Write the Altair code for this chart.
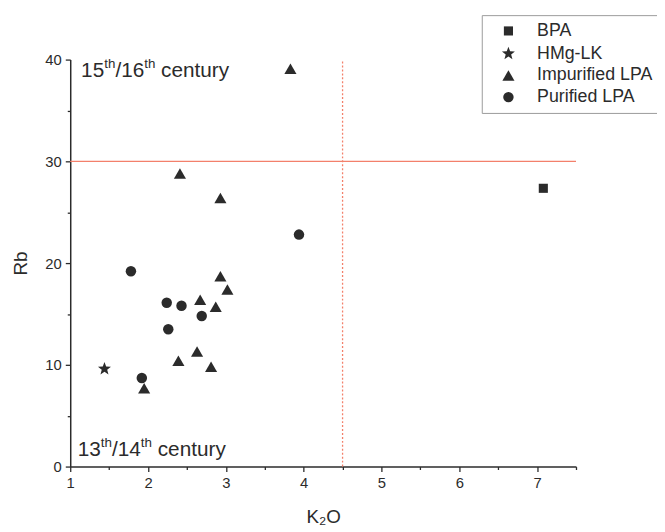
import math
import altair as alt
import pandas as pd

# ---------------- data ----------------
categories = ["BPA", "HMg-LK", "Impurified LPA", "Purified LPA"]

bpa_k2o = [7.08]
bpa_rb = [27.35]

hmg_k2o = [1.44]
hmg_rb = [9.6]

imp_k2o = [3.83, 2.41, 2.93, 2.93, 3.02, 2.67, 2.87, 2.63, 2.39, 2.81, 1.95]
imp_rb = [39.1, 28.8, 26.4, 18.7, 17.4, 16.4, 15.7, 11.3, 10.4, 9.8, 7.7]

pur_k2o = [3.94, 1.78, 2.24, 2.43, 2.69, 2.26, 1.92]
pur_rb = [22.8, 19.2, 16.1, 15.8, 14.8, 13.5, 8.7]

x_major = [1, 2, 3, 4, 5, 6, 7]
x_minor = [1.5, 2.5, 3.5, 4.5, 5.5, 6.5, 7.5]
y_major = [0, 10, 20, 30, 40]
y_minor = [5, 15, 25, 35]

rb_limit = 30
k2o_limit = 4.5

# ---------------- tables ----------------
rows = []
for name, xs, ys in [
    ("BPA", bpa_k2o, bpa_rb),
    ("HMg-LK", hmg_k2o, hmg_rb),
    ("Impurified LPA", imp_k2o, imp_rb),
    ("Purified LPA", pur_k2o, pur_rb),
]:
    for a, b in zip(xs, ys):
        rows.append({"K2O": a, "Rb": b, "group": name})
df = pd.DataFrame(rows)

# star symbol path in the unit square
pts = []
for i in range(10):
    ang = -math.pi / 2 + i * math.pi / 5
    r = 1.0 if i % 2 == 0 else 0.42
    pts.append(f"{r*math.cos(ang):.3f},{r*math.sin(ang):.3f}")
star = "M" + "L".join(pts) + "Z"

shapes = ["square", star, "triangle-up", "circle"]
sizes = [85, 190, 150, 112]

FONT = "Liberation Sans"
INK = "#2b2b2b"
RED = "#f3806b"

xscale = alt.Scale(domain=[1, 7.5], nice=False, zero=False)
yscale = alt.Scale(domain=[0, 40], nice=False, zero=False)

legend_spec = alt.Legend(title=None, orient="none", legendX=416.6, legendY=-45)

points = alt.Chart(df).mark_point(filled=True, opacity=1, color=INK).encode(
    x=alt.X("K2O:Q", scale=xscale,
            axis=alt.Axis(values=x_major, title="K₂O", tickSize=5,
                          labelPadding=4, labelFlush=False, titleX=256, titleY=51,
                          titleBaseline="middle", titleFontSize=19,
                          titleFontWeight="normal", orient="bottom")),
    y=alt.Y("Rb:Q", scale=yscale,
            axis=alt.Axis(values=y_major, title="Rb", tickSize=5,
                          labelPadding=4, labelFlush=False, titleX=-50, titleY=206,
                          titleBaseline="middle", titleFontSize=19,
                          titleFontWeight="normal", orient="left")),
    shape=alt.Shape("group:N", scale=alt.Scale(domain=categories, range=shapes),
                    legend=legend_spec),
    size=alt.Size("group:N", scale=alt.Scale(type="ordinal", domain=categories, range=sizes),
                  legend=legend_spec),
)

minor = alt.Chart(df).mark_point(opacity=0).encode(
    x=alt.X("K2O:Q", scale=xscale,
            axis=alt.Axis(values=x_minor, labels=False, domain=False, tickSize=3,
                          orient="bottom", title=None)),
    y=alt.Y("Rb:Q", scale=yscale,
            axis=alt.Axis(values=y_minor, labels=False, domain=False, tickSize=3,
                          orient="left", title=None)),
)

hline = alt.Chart(pd.DataFrame({"K2O": [1], "K2O_end": [7.5], "Rb": [rb_limit]})).mark_rule(
    color=RED, strokeWidth=1.3).encode(
    x=alt.X("K2O:Q", scale=xscale, axis=None), x2="K2O_end:Q",
    y=alt.Y("Rb:Q", scale=yscale, axis=None))

vline = alt.Chart(pd.DataFrame({"K2O": [k2o_limit], "Rb": [0], "Rb_end": [40]})).mark_rule(
    color=RED, strokeWidth=1.3, strokeDash=[2, 2]).encode(
    x=alt.X("K2O:Q", scale=xscale, axis=None),
    y=alt.Y("Rb:Q", scale=yscale, axis=None), y2="Rb_end:Q")

top_anchor = pd.DataFrame({"K2O": [1], "Rb": [40]})
bot_anchor = pd.DataFrame({"K2O": [1], "Rb": [0]})


def label(anchor, pieces, base_dy, sup_dy):
    layers = []
    for txt, dx, sup in pieces:
        layers.append(
            alt.Chart(anchor).mark_text(
                text=txt, align="left", baseline="alphabetic", font=FONT,
                fontSize=13.5 if sup else 21, color=INK, dx=dx,
                dy=sup_dy if sup else base_dy,
            ).encode(x=alt.X("K2O:Q", scale=xscale, axis=None),
                     y=alt.Y("Rb:Q", scale=yscale, axis=None))
        )
    return layers


top_pieces = [("15", 11, False), ("th", 34.4, True), ("/16", 45.7, False),
              ("th", 74.9, True), ("century", 92, False)]
bot_pieces = [("13", 7.6, False), ("th", 31, True), ("/14", 42.3, False),
              ("th", 71.5, True), ("century", 88.6, False)]

texts = label(top_anchor, top_pieces, 17.6, 8.5) + label(bot_anchor, bot_pieces, -10.7, -19.8)

chart = alt.layer(points, minor, hline, vline, *texts).resolve_axis(
    x="independent", y="independent"
).properties(
    width=512, height=412,
    autosize=alt.AutoSizeParams(type="none"),
    padding={"left": 63, "top": 49, "right": 82, "bottom": 62},
).configure_view(stroke=None).configure_axis(
    grid=False, labelFont=FONT, titleFont=FONT, labelFontSize=15,
    labelColor=INK, titleColor=INK, domainColor=INK, tickColor=INK,
    domainWidth=1.5, tickWidth=1.3,
).configure_legend(
    strokeColor="#9a9a9a", fillColor="white", padding=7,
    symbolOffset=11, labelOffset=20, rowPadding=4,
    labelFont=FONT, labelFontSize=18, labelColor=INK,
    symbolFillColor=INK, symbolStrokeColor=INK, symbolSize=90,
)

chart.save("out.html", embed_options={"renderer": "svg", "actions": False})
